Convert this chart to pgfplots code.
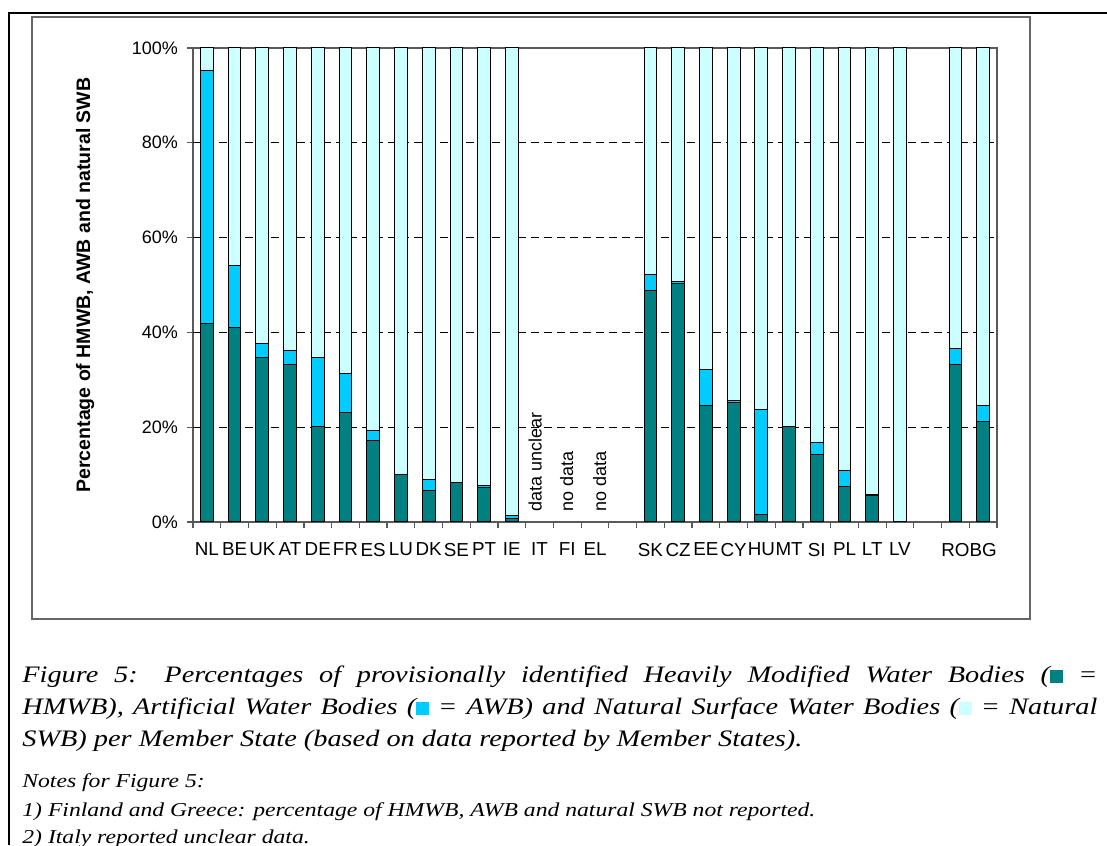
\documentclass[border=0pt]{standalone}
\usepackage{pgfplots}
\pgfplotsset{compat=1.18}
\usepackage{pgfplotstable}
\usepackage{fontspec}
\setmainfont{Liberation Sans}
\newfontfamily\capfont[FakeStretch=1.2]{Liberation Serif}
\definecolor{hmwb}{HTML}{008080}
\definecolor{awb}{HTML}{00CCFF}
\definecolor{nat}{HTML}{CCFFFF}
\definecolor{axgray}{HTML}{595959}

\pgfplotstableread{
x H A N
0 41.9 53.3 4.8
1 41.0 13.1 45.9
2 34.8 2.9 62.3
3 33.2 2.9 63.9
4 20.2 14.6 65.2
5 23.0 8.4 68.6
6 17.1 2.3 80.6
7 10.0 0.0 90.0
8 6.7 2.3 91.0
9 8.3 0.0 91.7
10 7.2 0.6 92.2
11 0.7 0.7 98.6
16 48.8 3.4 47.8
17 50.4 0.3 49.3
18 24.6 7.5 67.9
19 25.3 0.4 74.3
20 1.6 22.2 76.2
21 20.1 0.0 79.9
22 14.2 2.6 83.2
23 7.4 3.4 89.2
24 5.6 0.3 94.1
25 0.0 0.0 100.0
27 33.2 3.4 63.4
28 21.2 3.4 75.4
}\data

\begin{document}
\begin{tikzpicture}
\useasboundingbox (0,0) rectangle (553.5pt,422.5pt);
\clip (0,0) rectangle (553.5pt,422.5pt);
\fill[white] (0,0) rectangle (553.5pt,422.5pt);
\draw[line width=1.2pt] (4.5pt,0) -- (4.5pt,416pt) -- (553.5pt,416pt);
\draw[line width=0.7pt, black!60] (16pt,113pt) rectangle (515pt,414pt);
\begin{axis}[
  at={(96.5pt,161.5pt)}, anchor=south west,
  scale only axis, width=402pt, height=237pt,
  ybar stacked, bar width=0.46,
  xmin=-0.5, xmax=28.5, ymin=0, ymax=100,
  axis line style={axgray, line width=0.6pt},
  tick pos=left, tick align=outside,
  major tick length=2.8pt, minor tick length=2.8pt,
  xtick={0,...,28},
  xticklabels={NL,BE,UK,AT,DE,FR,ES,LU,DK,SE,PT,IE,IT,FI,EL,,SK,CZ,EE,CY,HU,MT,SI,PL,LT,LV,,RO,BG},
  minor xtick={-0.5,0.5,...,28.5},
  major x tick style={draw=none},
  minor x tick style={axgray, line width=0.6pt},
  ytick={0,20,...,100},
  yticklabels={0\%,20\%,40\%,60\%,80\%,100\%},
  y tick style={axgray, line width=0.6pt},
  extra y ticks={20,40,60,80},
  extra y tick labels={},
  extra y tick style={ymajorgrids=true, major grid style={black, line width=0.5pt, dash pattern=on 4pt off 2.5pt}},
  tick label style={font=\fontsize{9}{10}\selectfont},
  xticklabel style={font=\fontsize{9.4}{10}\selectfont, inner sep=0pt, yshift=-7.5pt},
  yticklabel style={inner sep=0pt, xshift=-4.5pt},
  every axis plot/.append style={draw=black, line width=0.5pt},
]
\addplot[fill=hmwb] table[x=x,y=H]{\data};
\addplot[fill=awb] table[x=x,y=A]{\data};
\addplot[fill=nat] table[x=x,y=N]{\data};
\node[rotate=90, anchor=west, inner sep=0pt, font=\fontsize{9}{10}\selectfont] at (axis cs:11.84,2.2) {data unclear};
\node[rotate=90, anchor=west, inner sep=0pt, font=\fontsize{9}{10}\selectfont] at (axis cs:12.98,2.2) {no data};
\node[rotate=90, anchor=west, inner sep=0pt, font=\fontsize{9}{10}\selectfont] at (axis cs:14.17,2.2) {no data};
\end{axis}
\node[rotate=90, inner sep=0pt, font=\bfseries\fontsize{9.75}{11}\selectfont] at (42.5pt,280pt) {Percentage of HMWB, AWB and natural SWB};
\begin{scope}[every node/.style={anchor=base west, inner sep=0pt}]
\node[font=\capfont\itshape\fontsize{11.8}{14}\selectfont] at (11pt,81pt) {\makebox[537.5pt][s]{Figure 5: Percentages of provisionally identified Heavily Modified Water Bodies (\textcolor{hmwb}{\rule{6.3pt}{6.3pt}} =}};
\node[font=\capfont\itshape\fontsize{11.8}{14}\selectfont] at (11pt,65pt) {\makebox[537.5pt][s]{HMWB), Artificial Water Bodies (\textcolor{awb}{\rule{6.3pt}{6.3pt}} = AWB) and Natural Surface Water Bodies (\textcolor{nat}{\rule{6.3pt}{6.3pt}} = Natural}};
\node[font=\capfont\itshape\fontsize{11.8}{14}\selectfont] at (11pt,49.2pt) {SWB) per Member State (based on data reported by Member States).};
\node[font=\capfont\itshape\fontsize{9.85}{12}\selectfont] at (11pt,28.5pt) {Notes for Figure 5:};
\node[font=\capfont\itshape\fontsize{9.85}{12}\selectfont] at (11pt,14.2pt) {1) Finland and Greece: percentage of HMWB, AWB and natural SWB not reported.};
\node[font=\capfont\itshape\fontsize{9.85}{12}\selectfont] at (11pt,1pt) {2) Italy reported unclear data.};
\end{scope}
\end{tikzpicture}
\end{document}
